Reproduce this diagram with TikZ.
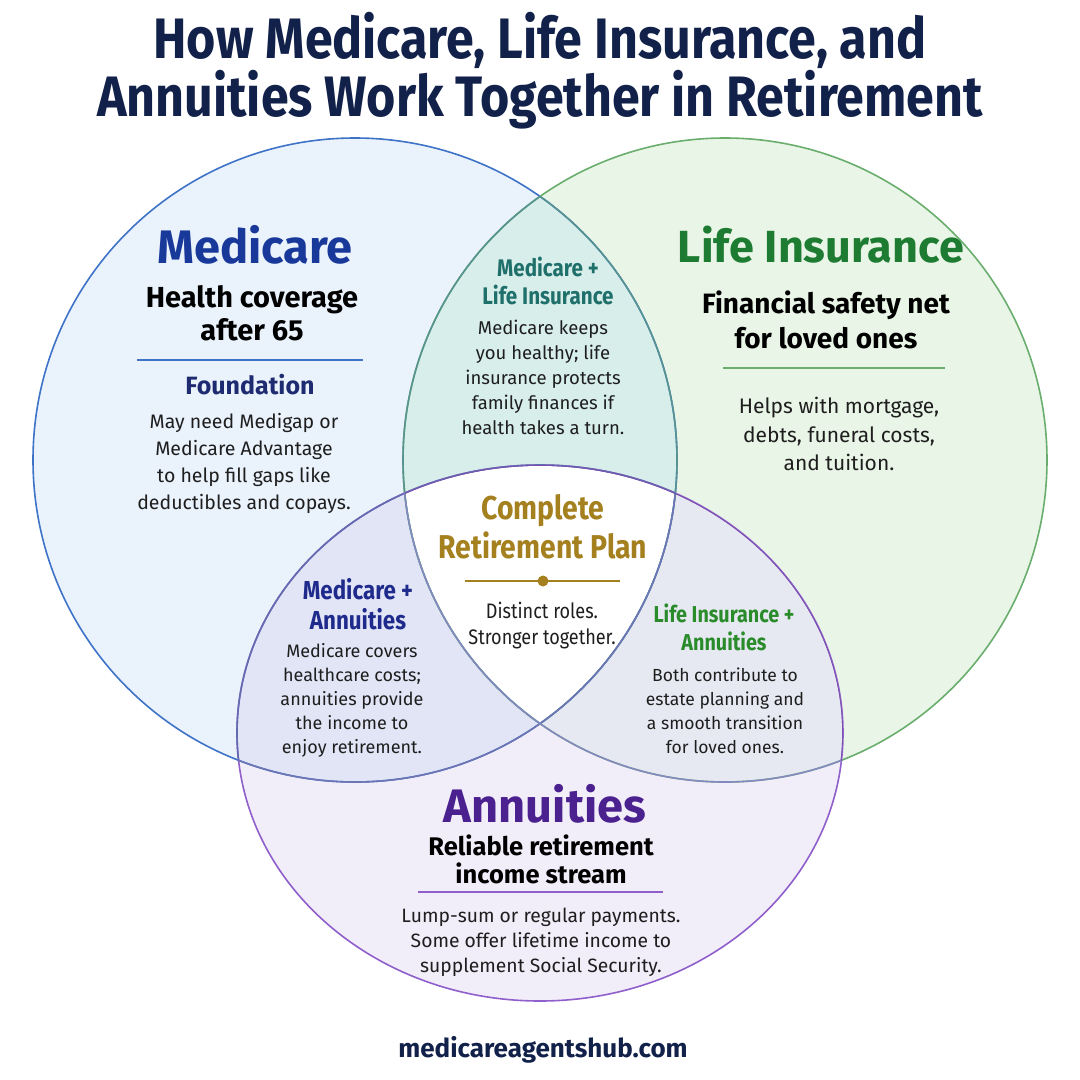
\documentclass[tikz,border=0pt]{standalone}
\usepackage{fontspec}
\setmainfont{Fira Sans}
\newfontfamily\condfont{Fira Sans}[FakeStretch=0.86]
\newfontfamily\titlefont{Fira Sans}[FakeStretch=0.88]
\usepackage{tikz}
\usetikzlibrary{positioning}

\definecolor{medline}{HTML}{3E73C8}
\definecolor{medfill}{HTML}{EAF2FC}
\definecolor{lifeline}{HTML}{6AAE6E}
\definecolor{lifefill}{HTML}{E9F5E6}
\definecolor{annline}{HTML}{8F5FCB}
\definecolor{annfill}{HTML}{F2EEF9}
\definecolor{mlfill}{HTML}{D7EEEA}
\definecolor{mafill}{HTML}{E2E5F6}
\definecolor{lafill}{HTML}{E7E9F2}
\definecolor{titlenavy}{HTML}{12214A}
\definecolor{medblue}{HTML}{19399A}
\definecolor{navytxt}{HTML}{1E2B70}
\definecolor{lifegreen}{HTML}{1E7B32}
\definecolor{tealtxt}{HTML}{1F6F6B}
\definecolor{goldtxt}{HTML}{A4801F}
\definecolor{indigotxt}{HTML}{1F2B8C}
\definecolor{greentxt}{HTML}{2A8B2B}
\definecolor{annpurple}{HTML}{4B2190}
\definecolor{bodytxt}{HTML}{1E1E1E}

\newcommand{\fsz}[2]{\fontsize{#1}{#2}\selectfont}

\tikzset{
  ring/.style={line width=1.6pt},
  rulebar/.style={line width=1.3pt},
  bigtitle/.style={font=\titlefont\bfseries\fsz{57}{58}, text=titlenavy, align=center},
  sethead/.style={font=\bfseries\fsz{47}{50}, align=center},
  setsub/.style={font=\bfseries\fsz{29}{33}, text=black, align=center},
  pairhead/.style={font=\condfont\bfseries\fsz{23}{28}, align=center},
  bodytext/.style={font=\fsz{18.5}{25}, text=bodytxt, align=center}
}

\def\medshape{(355,460) circle[radius=322pt]}
\def\lifeshape{(725,460) circle[radius=322pt]}
\def\annshape{(540,733) ellipse[x radius=303pt, y radius=268pt]}

\begin{document}
\begin{tikzpicture}[x=1pt,y=-1pt]
  \useasboundingbox (0,0) rectangle (1080,1080);
  \fill[white] (0,0) rectangle (1080,1080);

  % region fills
  \fill[medfill] \medshape;
  \fill[lifefill] \lifeshape;
  \fill[annfill] \annshape;
  \begin{scope}
    \clip \medshape;
    \fill[mlfill] \lifeshape;
    \fill[mafill] \annshape;
  \end{scope}
  \begin{scope}
    \clip \lifeshape;
    \fill[lafill] \annshape;
  \end{scope}
  \begin{scope}
    \clip \medshape;
    \clip \lifeshape;
    \fill[white] \annshape;
  \end{scope}

  % outlines, tinted where they cross another set
  \draw[ring, medline] \medshape;
  \draw[ring, lifeline] \lifeshape;
  \draw[ring, annline] \annshape;
  \begin{scope}
    \clip \lifeshape;
    \draw[ring, color=tealtxt!75] \medshape;
  \end{scope}
  \begin{scope}
    \clip \medshape;
    \draw[ring, color=tealtxt!75] \lifeshape;
    \draw[ring, color=indigotxt!70] \annshape;
  \end{scope}
  \begin{scope}
    \clip \annshape;
    \draw[ring, color=indigotxt!65] \medshape;
    \draw[ring, color=indigotxt!55] \lifeshape;
  \end{scope}
  \begin{scope}
    \clip \lifeshape;
    \clip \annshape;
    \draw[ring, color=annline!85!black] \annshape;
  \end{scope}

  \node[bigtitle] (title) at (540,71) {How Medicare, Life Insurance, and\\Annuities Work Together in Retirement};

  % Medicare
  \node[sethead, text=medblue] (med) at (255,245) {Medicare};
  \node[setsub] (medsub) at (252,313) {Health coverage\\after 65};
  \draw[rulebar, medline] (137,360) -- (363,360);
  \node[font=\bfseries\fsz{25}{28}, text=navytxt] (found) at (250,385) {Foundation};
  \node[bodytext, font=\fsz{19.5}{27}] (medbody) at (244,463) {May need Medigap or\\Medicare Advantage\\to help fill gaps like\\deductibles and copays.};

  % Life Insurance
  \node[sethead, font=\bfseries\fsz{45}{50}, text=lifegreen] (life) at (821,245) {Life Insurance};
  \node[setsub, font=\bfseries\fsz{28}{35}] (lifesub) at (826,320) {Financial safety net\\for loved ones};
  \draw[rulebar, lifeline] (723,368) -- (945,368);
  \node[bodytext, font=\fsz{21}{28.5}] (lifebody) at (839,434) {Helps with mortgage,\\debts, funeral costs,\\and tuition.};

  % Medicare + Life Insurance
  \node[pairhead, font=\condfont\bfseries\fsz{24}{28}, text=tealtxt] (mlhead) at (548,281) {Medicare +\\Life Insurance};
  \node[bodytext] (mlbody) at (543,377) {Medicare keeps\\you healthy; life\\insurance protects\\family finances if\\health takes a turn.};

  % center
  \node[font=\condfont\bfseries\fsz{33}{39}, text=goldtxt, align=center] (plan) at (543,527) {Complete\\Retirement Plan};
  \draw[rulebar, goldtxt] (465,581) -- (620,581);
  \fill[goldtxt] (543,581) circle[radius=5.5pt];
  \node[font=\condfont\fsz{21}{26}, text=bodytxt, align=center] (roles) at (542,626) {Distinct roles.\\Stronger together.};

  % Medicare + Annuities
  \node[pairhead, font=\condfont\bfseries\fsz{26}{30}, text=indigotxt] (mahead) at (358,604) {Medicare +\\Annuities};
  \node[bodytext, font=\fsz{18}{24}] (mabody) at (352,700) {Medicare covers\\healthcare costs;\\annuities provide\\the income to\\enjoy retirement.};

  % Life Insurance + Annuities
  \node[pairhead, text=greentxt] (lahead) at (724,627) {Life Insurance +\\Annuities};
  \node[bodytext, font=\fsz{17.5}{24}] (labody) at (725,711) {Both contribute to\\estate planning and\\a smooth transition\\for loved ones.};

  % Annuities
  \node[sethead, text=annpurple] (ann) at (545,804) {Annuities};
  \node[setsub, font=\bfseries\fsz{25.5}{28}] (annsub) at (541,859) {Reliable retirement\\income stream};
  \draw[rulebar, annline] (418,892) -- (663,892);
  \node[bodytext, font=\fsz{19.3}{25}] (annbody) at (541,942) {Lump-sum or regular payments.\\Some offer lifetime income to\\supplement Social Security.};

  \node[font=\bfseries\fsz{26}{28}, text=titlenavy] (url) at (543,1050) {medicareagentshub.com};
\end{tikzpicture}
\end{document}
